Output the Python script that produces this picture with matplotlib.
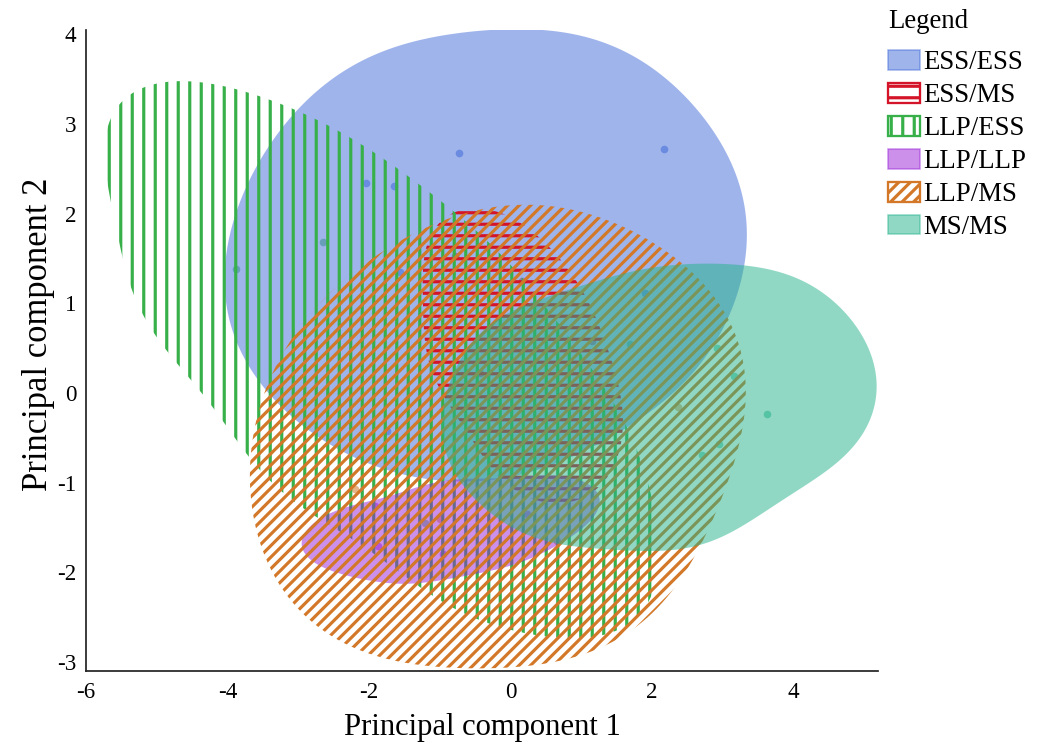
import numpy as np
import matplotlib
matplotlib.use("Agg")
import matplotlib.pyplot as plt
import matplotlib.patches as mpatches
from matplotlib.path import Path

plt.rcParams['font.family'] = ['Liberation Serif', 'DejaVu Serif']
plt.rcParams['hatch.linewidth'] = 1.65
plt.rcParams['axes.unicode_minus'] = False

# ---------------- data ----------------
groups = ["ESS/ESS", "ESS/MS", "LLP/ESS", "LLP/LLP", "LLP/MS", "MS/MS"]
colors = ["#416bd9", "#d41428", "#38b04a", "#9b23d7", "#d27828", "#25b38b"]
hatches = [None, "--", "||", None, "////", None]

# sample scores (PC1, PC2)
ess_ess_pts_x = [-0.73, 2.17, -2.04, -1.65, -1.56, 1.90, -1.75]
ess_ess_pts_y = [2.68, 2.72, 2.34, 2.31, 1.35, 1.12, -0.42]
ess_ms_pts_x = [-0.79, 0.16, 1.15, -0.43]
ess_ms_pts_y = [1.53, 1.25, 0.58, 0.22]
llp_ess_pts_x = [-3.88, -2.65, 1.68, -1.21]
llp_ess_pts_y = [1.38, 1.69, 0.55, -1.45]
llp_llp_pts_x = [-1.92, -1.88, 0.23, -0.95]
llp_llp_pts_y = [-1.26, -1.71, -1.35, -1.80]
llp_ms_pts_x = [-2.20, 2.36, 0.65, -1.00]
llp_ms_pts_y = [-1.07, -0.15, -1.65, -1.40]
ms_ms_pts_x = [2.91, 3.16, 3.62, 2.95, 2.70]
ms_ms_pts_y = [0.50, 0.19, -0.23, -0.57, -0.69]

# group region outlines (PC1, PC2)
ess_ess_hull_x = [3.34, 3.24, 2.92, 2.21, 1.25, 0.06, -1.20, -2.31, -2.98, -3.44, -3.75, -3.96,
                  -4.05, -3.95, -3.70, -3.30, -2.70, -1.90, -0.90, 0.10, 1.00, 1.80, 2.55, 3.05]
ess_ess_hull_y = [1.65, 2.29, 2.85, 3.50, 3.93, 4.06, 3.95, 3.63, 3.15, 2.78, 2.22, 1.80,
                  1.35, 0.75, 0.30, -0.10, -0.50, -0.82, -0.98, -0.92, -0.66, -0.30, 0.20, 0.80]
ess_ms_hull_x = [1.58, 1.50, 1.37, 1.12, 0.70, 0.38, -0.12, -0.86, -1.15,
                 -1.25, -1.10, -0.72, -0.30, 0.31, 0.90, 1.37]
ess_ms_hull_y = [-0.37, 0.20, 0.47, 0.99, 1.50, 1.74, 2.01, 2.01, 1.70,
                 1.00, 0.20, -0.29, -0.82, -1.18, -1.20, -0.95]
llp_ess_hull_x = [-5.73, -5.40, -4.91, -4.25, -3.29, -2.31, -1.32, -0.40, 0.62, 1.43, 1.90,
                  2.08, 1.90, 1.43, 0.80, 0.00, -0.86, -1.80, -2.65, -3.29, -4.08, -4.74, -5.41]
llp_ess_hull_y = [2.92, 3.30, 3.46, 3.45, 3.24, 2.87, 2.34, 1.75, 0.84, -0.09, -0.87,
                  -1.75, -2.43, -2.68, -2.71, -2.65, -2.38, -1.86, -1.43, -1.06, -0.31, 0.38, 1.25]
llp_llp_hull_x = [-3.02, -2.69, -1.99, -1.28, -0.58, 0.27, 0.90, 1.25, 1.32, 1.08, 0.60, -0.11, -0.82, -1.75, -2.69]
llp_llp_hull_y = [-1.73, -1.40, -1.21, -1.04, -0.96, -0.93, -0.96, -1.09, -1.26, -1.43, -1.73, -1.95, -2.06, -2.13, -1.91]
llp_ms_hull_x = [3.34, 3.24, 3.05, 2.67, 1.96, 1.25, 0.31, -0.39, -1.10, -1.95, -2.48, -3.02,
                 -3.54, -3.68, -3.58, -3.16, -2.60, -1.75, -0.72, 0.60, 1.45, 1.95, 2.35, 2.70, 3.10]
llp_ms_hull_y = [0.10, 0.47, 0.84, 1.28, 1.70, 1.95, 2.12, 2.06, 1.84, 1.55, 1.14, 0.69,
                 -0.12, -0.79, -1.54, -2.29, -2.66, -2.96, -3.08, -2.99, -2.78, -2.50, -2.12, -1.65, -0.95]
ms_ms_hull_x = [5.17, 5.07, 4.65, 4.08, 3.52, 2.86, 1.97, 0.74, 0.03, -0.43, -0.72, -0.90, -0.97,
                -0.86, -0.62, -0.25, 0.37, 0.84, 1.26, 1.83, 2.43, 3.23, 3.99, 4.55, 5.00]
ms_ms_hull_y = [0.17, -0.31, -0.76, -1.06, -1.36, -1.65, -1.76, -1.69, -1.51, -1.21, -0.98, -0.76, -0.39,
                0.10, 0.47, 0.80, 1.03, 1.16, 1.25, 1.38, 1.44, 1.42, 1.31, 1.03, 0.58]

pts = [(ess_ess_pts_x, ess_ess_pts_y), (ess_ms_pts_x, ess_ms_pts_y), (llp_ess_pts_x, llp_ess_pts_y),
       (llp_llp_pts_x, llp_llp_pts_y), (llp_ms_pts_x, llp_ms_pts_y), (ms_ms_pts_x, ms_ms_pts_y)]
hulls = [(ess_ess_hull_x, ess_ess_hull_y), (ess_ms_hull_x, ess_ms_hull_y), (llp_ess_hull_x, llp_ess_hull_y),
         (llp_llp_hull_x, llp_llp_hull_y), (llp_ms_hull_x, llp_ms_hull_y), (ms_ms_hull_x, ms_ms_hull_y)]
harmonics = [8, 6, 9, 6, 6, 7]

x_ticks = [-6, -4, -2, 0, 2, 4]
y_ticks = [-3, -2, -1, 0, 1, 2, 3, 4]


def smooth_closed(xs, ys, K=6, n=20, M=720, sx=70.8, sy=89.6):
    """Closed Catmull-Rom through outline points, then low-pass (Fourier) smoothing."""
    P = np.column_stack([np.asarray(xs) * sx, np.asarray(ys) * sy]).astype(float)
    N = len(P)
    t = np.linspace(0, 1, n, endpoint=False)[:, None]
    segs = []
    for i in range(N):
        p0, p1, p2, p3 = P[(i - 1) % N], P[i], P[(i + 1) % N], P[(i + 2) % N]
        segs.append(0.5 * (2 * p1 + (-p0 + p2) * t + (2 * p0 - 5 * p1 + 4 * p2 - p3) * t ** 2
                           + (-p0 + 3 * p1 - 3 * p2 + p3) * t ** 3))
    D = np.vstack(segs)
    D2 = np.vstack([D, D[:1]])
    seg_len = np.hypot(*np.diff(D2, axis=0).T)
    s = np.concatenate([[0], np.cumsum(seg_len)])
    su = np.linspace(0, s[-1], M, endpoint=False)
    z = np.interp(su, s, D2[:, 0]) + 1j * np.interp(su, s, D2[:, 1])
    F = np.fft.fft(z)
    freq = np.fft.fftfreq(M, 1.0 / M)
    F[np.abs(freq) > K] = 0
    zs = np.fft.ifft(F)
    out = np.column_stack([zs.real / sx, zs.imag / sy])
    return np.vstack([out, out[:1]])


DPI = 138
fig = plt.figure(figsize=(1037 / DPI, 751 / DPI), dpi=DPI)
ax = fig.add_axes([86 / 1037, 80 / 751, (878 - 86) / 1037, (671 - 30) / 751])

for (px, py), c in zip(pts, colors):
    ax.scatter(px, py, s=16, color=c, alpha=0.55, linewidths=0, zorder=1)

for k, ((hx, hy), c, h, K) in enumerate(zip(hulls, colors, hatches, harmonics)):
    verts = smooth_closed(hx, hy, K=K)
    path = Path(verts, closed=True)
    if h is None:
        patch = mpatches.PathPatch(path, facecolor=c, edgecolor='none', alpha=0.5, lw=0, zorder=2 + k)
    else:
        patch = mpatches.PathPatch(path, facecolor='none', edgecolor=c, hatch=h, lw=0, zorder=2 + k)
    ax.add_patch(patch)

ax.set_xlim(-6, 5.19)
ax.set_ylim(-3.1, 4.05)
ax.set_xticks(x_ticks)
ax.set_yticks(y_ticks)
ax.tick_params(length=0, labelsize=12)
ax.tick_params(axis='x', pad=6)
ax.tick_params(axis='y', pad=5)
for s in ['top', 'right']:
    ax.spines[s].set_visible(False)
for s in ['left', 'bottom']:
    ax.spines[s].set_linewidth(0.9)
    ax.spines[s].set_color('#222222')
ax.set_xlabel("Principal component 1", fontsize=16, labelpad=5)
ax.set_ylabel("Principal component 2", fontsize=18)
ax.yaxis.set_label_coords(-0.039, 0.526)

handles = []
for g, c, h in zip(groups, colors, hatches):
    if h is None:
        handles.append(mpatches.Patch(facecolor=c, edgecolor=c, alpha=0.5, lw=0.8, label=g))
    else:
        handles.append(mpatches.Patch(facecolor='none', edgecolor=c, hatch=h, lw=1.2, label=g))
fig.text(888 / 1037, 1 - 22 / 751, "Legend", fontsize=14, ha='left', va='center')
leg = fig.legend(handles=handles, loc='upper left',
                 bbox_to_anchor=(888 / 1037, 1 - 50 / 751), frameon=False,
                 fontsize=14, handlelength=1.2, handleheight=0.75,
                 handletextpad=0.12, labelspacing=0.29, borderaxespad=0, borderpad=0)

fig.savefig("out.png", dpi=DPI)
